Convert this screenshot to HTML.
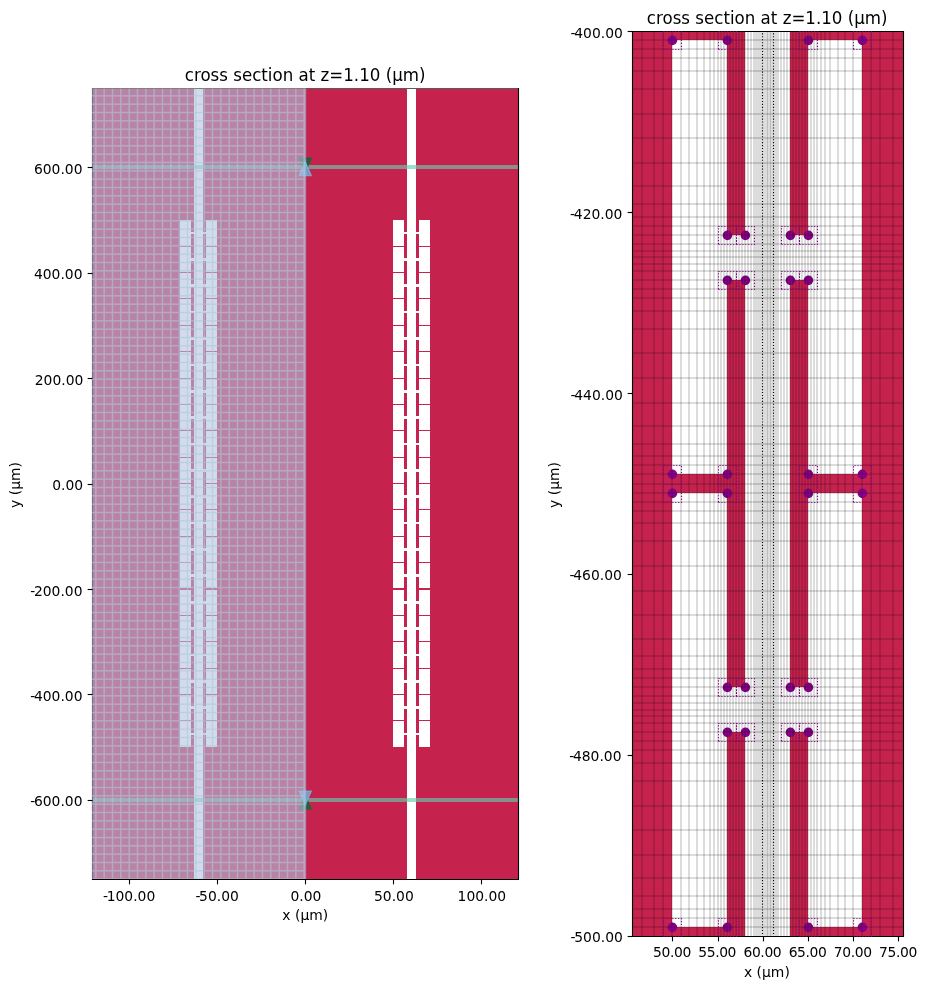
<!DOCTYPE html>
<html><head><meta charset="utf-8"><title>cross section</title>
<style>
html,body{margin:0;padding:0;background:#fff;}
svg{display:block;}
text{font-family:"DejaVu Sans", "Liberation Sans", sans-serif;fill:#000;}
.t12{font-size:16.667px;}
.t10{font-size:13.889px;}
</style></head><body>
<svg width="928" height="989" viewBox="0 0 928 989">
<rect x="0" y="0" width="928" height="989" fill="#fff"/>

<defs>
<clipPath id="cl"><rect x="92.0" y="88.0" width="426.0" height="791.0"/></clipPath>
<pattern id="hatch" x="0" y="0" width="100" height="100" patternUnits="userSpaceOnUse"><rect x="0" y="3.472" width="100" height="1.389" fill="#B0C4DE"/><rect x="0" y="11.806" width="100" height="1.389" fill="#B0C4DE"/><rect x="0" y="20.139" width="100" height="1.389" fill="#B0C4DE"/><rect x="0" y="28.472" width="100" height="1.389" fill="#B0C4DE"/><rect x="0" y="36.806" width="100" height="1.389" fill="#B0C4DE"/><rect x="0" y="45.139" width="100" height="1.389" fill="#B0C4DE"/><rect x="0" y="53.472" width="100" height="1.389" fill="#B0C4DE"/><rect x="0" y="61.806" width="100" height="1.389" fill="#B0C4DE"/><rect x="0" y="70.139" width="100" height="1.389" fill="#B0C4DE"/><rect x="0" y="78.472" width="100" height="1.389" fill="#B0C4DE"/><rect x="0" y="86.805" width="100" height="1.389" fill="#B0C4DE"/><rect x="0" y="95.139" width="100" height="1.389" fill="#B0C4DE"/><rect x="3.472" y="0" width="1.389" height="100" fill="#B0C4DE"/><rect x="11.806" y="0" width="1.389" height="100" fill="#B0C4DE"/><rect x="20.139" y="0" width="1.389" height="100" fill="#B0C4DE"/><rect x="28.472" y="0" width="1.389" height="100" fill="#B0C4DE"/><rect x="36.806" y="0" width="1.389" height="100" fill="#B0C4DE"/><rect x="45.139" y="0" width="1.389" height="100" fill="#B0C4DE"/><rect x="53.472" y="0" width="1.389" height="100" fill="#B0C4DE"/><rect x="61.806" y="0" width="1.389" height="100" fill="#B0C4DE"/><rect x="70.139" y="0" width="1.389" height="100" fill="#B0C4DE"/><rect x="78.472" y="0" width="1.389" height="100" fill="#B0C4DE"/><rect x="86.805" y="0" width="1.389" height="100" fill="#B0C4DE"/><rect x="95.139" y="0" width="1.389" height="100" fill="#B0C4DE"/></pattern>
</defs>
<g clip-path="url(#cl)">
<rect x="92.0" y="88.0" width="426.0" height="791.0" fill="#C6224E"/>
<rect x="407" y="88.0" width="9" height="791.0" fill="#fff"/><rect x="393" y="220" width="11" height="527" fill="#fff"/><rect x="419" y="220" width="11" height="527" fill="#fff"/><rect x="393" y="720" width="11" height="1" fill="#C6224E"/><rect x="419" y="720" width="11" height="1" fill="#C6224E"/><rect x="393" y="694" width="11" height="1" fill="#C6224E"/><rect x="419" y="694" width="11" height="1" fill="#C6224E"/><rect x="393" y="668" width="11" height="1" fill="#C6224E"/><rect x="419" y="668" width="11" height="1" fill="#C6224E"/><rect x="393" y="641" width="11" height="1" fill="#C6224E"/><rect x="419" y="641" width="11" height="1" fill="#C6224E"/><rect x="393" y="615" width="11" height="1" fill="#C6224E"/><rect x="419" y="615" width="11" height="1" fill="#C6224E"/><rect x="393" y="588" width="11" height="2" fill="#C6224E"/><rect x="419" y="588" width="11" height="2" fill="#C6224E"/><rect x="393" y="562" width="11" height="1" fill="#C6224E"/><rect x="419" y="562" width="11" height="1" fill="#C6224E"/><rect x="393" y="536" width="11" height="1" fill="#C6224E"/><rect x="419" y="536" width="11" height="1" fill="#C6224E"/><rect x="393" y="509" width="11" height="1" fill="#C6224E"/><rect x="419" y="509" width="11" height="1" fill="#C6224E"/><rect x="393" y="483" width="11" height="1" fill="#C6224E"/><rect x="419" y="483" width="11" height="1" fill="#C6224E"/><rect x="393" y="457" width="11" height="1" fill="#C6224E"/><rect x="419" y="457" width="11" height="1" fill="#C6224E"/><rect x="393" y="430" width="11" height="1" fill="#C6224E"/><rect x="419" y="430" width="11" height="1" fill="#C6224E"/><rect x="393" y="404" width="11" height="1" fill="#C6224E"/><rect x="419" y="404" width="11" height="1" fill="#C6224E"/><rect x="393" y="378" width="11" height="1" fill="#C6224E"/><rect x="419" y="378" width="11" height="1" fill="#C6224E"/><rect x="393" y="351" width="11" height="1" fill="#C6224E"/><rect x="419" y="351" width="11" height="1" fill="#C6224E"/><rect x="393" y="325" width="11" height="1" fill="#C6224E"/><rect x="419" y="325" width="11" height="1" fill="#C6224E"/><rect x="393" y="298" width="11" height="1" fill="#C6224E"/><rect x="419" y="298" width="11" height="1" fill="#C6224E"/><rect x="393" y="272" width="11" height="1" fill="#C6224E"/><rect x="419" y="272" width="11" height="1" fill="#C6224E"/><rect x="393" y="246" width="11" height="1" fill="#C6224E"/><rect x="419" y="246" width="11" height="1" fill="#C6224E"/><rect x="404" y="733" width="3" height="2" fill="#fff"/><rect x="416" y="733" width="3" height="2" fill="#fff"/><rect x="404" y="706" width="3" height="3" fill="#fff"/><rect x="416" y="706" width="3" height="3" fill="#fff"/><rect x="404" y="680" width="3" height="3" fill="#fff"/><rect x="416" y="680" width="3" height="3" fill="#fff"/><rect x="404" y="654" width="3" height="2" fill="#fff"/><rect x="416" y="654" width="3" height="2" fill="#fff"/><rect x="404" y="627" width="3" height="3" fill="#fff"/><rect x="416" y="627" width="3" height="3" fill="#fff"/><rect x="404" y="601" width="3" height="3" fill="#fff"/><rect x="416" y="601" width="3" height="3" fill="#fff"/><rect x="404" y="574" width="3" height="3" fill="#fff"/><rect x="416" y="574" width="3" height="3" fill="#fff"/><rect x="404" y="548" width="3" height="3" fill="#fff"/><rect x="416" y="548" width="3" height="3" fill="#fff"/><rect x="404" y="522" width="3" height="2" fill="#fff"/><rect x="416" y="522" width="3" height="2" fill="#fff"/><rect x="404" y="495" width="3" height="3" fill="#fff"/><rect x="416" y="495" width="3" height="3" fill="#fff"/><rect x="404" y="469" width="3" height="3" fill="#fff"/><rect x="416" y="469" width="3" height="3" fill="#fff"/><rect x="404" y="443" width="3" height="2" fill="#fff"/><rect x="416" y="443" width="3" height="2" fill="#fff"/><rect x="404" y="416" width="3" height="3" fill="#fff"/><rect x="416" y="416" width="3" height="3" fill="#fff"/><rect x="404" y="390" width="3" height="3" fill="#fff"/><rect x="416" y="390" width="3" height="3" fill="#fff"/><rect x="404" y="364" width="3" height="2" fill="#fff"/><rect x="416" y="364" width="3" height="2" fill="#fff"/><rect x="404" y="337" width="3" height="3" fill="#fff"/><rect x="416" y="337" width="3" height="3" fill="#fff"/><rect x="404" y="311" width="3" height="2" fill="#fff"/><rect x="416" y="311" width="3" height="2" fill="#fff"/><rect x="404" y="284" width="3" height="3" fill="#fff"/><rect x="416" y="284" width="3" height="3" fill="#fff"/><rect x="404" y="258" width="3" height="3" fill="#fff"/><rect x="416" y="258" width="3" height="3" fill="#fff"/><rect x="404" y="232" width="3" height="2" fill="#fff"/><rect x="416" y="232" width="3" height="2" fill="#fff"/>
<rect x="194" y="88.0" width="9" height="791.0" fill="#fff"/><rect x="206" y="220" width="11" height="527" fill="#fff"/><rect x="180" y="220" width="11" height="527" fill="#fff"/><rect x="206" y="720" width="11" height="1" fill="#C6224E"/><rect x="180" y="720" width="11" height="1" fill="#C6224E"/><rect x="206" y="694" width="11" height="1" fill="#C6224E"/><rect x="180" y="694" width="11" height="1" fill="#C6224E"/><rect x="206" y="668" width="11" height="1" fill="#C6224E"/><rect x="180" y="668" width="11" height="1" fill="#C6224E"/><rect x="206" y="641" width="11" height="1" fill="#C6224E"/><rect x="180" y="641" width="11" height="1" fill="#C6224E"/><rect x="206" y="615" width="11" height="1" fill="#C6224E"/><rect x="180" y="615" width="11" height="1" fill="#C6224E"/><rect x="206" y="588" width="11" height="2" fill="#C6224E"/><rect x="180" y="588" width="11" height="2" fill="#C6224E"/><rect x="206" y="562" width="11" height="1" fill="#C6224E"/><rect x="180" y="562" width="11" height="1" fill="#C6224E"/><rect x="206" y="536" width="11" height="1" fill="#C6224E"/><rect x="180" y="536" width="11" height="1" fill="#C6224E"/><rect x="206" y="509" width="11" height="1" fill="#C6224E"/><rect x="180" y="509" width="11" height="1" fill="#C6224E"/><rect x="206" y="483" width="11" height="1" fill="#C6224E"/><rect x="180" y="483" width="11" height="1" fill="#C6224E"/><rect x="206" y="457" width="11" height="1" fill="#C6224E"/><rect x="180" y="457" width="11" height="1" fill="#C6224E"/><rect x="206" y="430" width="11" height="1" fill="#C6224E"/><rect x="180" y="430" width="11" height="1" fill="#C6224E"/><rect x="206" y="404" width="11" height="1" fill="#C6224E"/><rect x="180" y="404" width="11" height="1" fill="#C6224E"/><rect x="206" y="378" width="11" height="1" fill="#C6224E"/><rect x="180" y="378" width="11" height="1" fill="#C6224E"/><rect x="206" y="351" width="11" height="1" fill="#C6224E"/><rect x="180" y="351" width="11" height="1" fill="#C6224E"/><rect x="206" y="325" width="11" height="1" fill="#C6224E"/><rect x="180" y="325" width="11" height="1" fill="#C6224E"/><rect x="206" y="298" width="11" height="1" fill="#C6224E"/><rect x="180" y="298" width="11" height="1" fill="#C6224E"/><rect x="206" y="272" width="11" height="1" fill="#C6224E"/><rect x="180" y="272" width="11" height="1" fill="#C6224E"/><rect x="206" y="246" width="11" height="1" fill="#C6224E"/><rect x="180" y="246" width="11" height="1" fill="#C6224E"/><rect x="203" y="733" width="3" height="2" fill="#fff"/><rect x="191" y="733" width="3" height="2" fill="#fff"/><rect x="203" y="706" width="3" height="3" fill="#fff"/><rect x="191" y="706" width="3" height="3" fill="#fff"/><rect x="203" y="680" width="3" height="3" fill="#fff"/><rect x="191" y="680" width="3" height="3" fill="#fff"/><rect x="203" y="654" width="3" height="2" fill="#fff"/><rect x="191" y="654" width="3" height="2" fill="#fff"/><rect x="203" y="627" width="3" height="3" fill="#fff"/><rect x="191" y="627" width="3" height="3" fill="#fff"/><rect x="203" y="601" width="3" height="3" fill="#fff"/><rect x="191" y="601" width="3" height="3" fill="#fff"/><rect x="203" y="574" width="3" height="3" fill="#fff"/><rect x="191" y="574" width="3" height="3" fill="#fff"/><rect x="203" y="548" width="3" height="3" fill="#fff"/><rect x="191" y="548" width="3" height="3" fill="#fff"/><rect x="203" y="522" width="3" height="2" fill="#fff"/><rect x="191" y="522" width="3" height="2" fill="#fff"/><rect x="203" y="495" width="3" height="3" fill="#fff"/><rect x="191" y="495" width="3" height="3" fill="#fff"/><rect x="203" y="469" width="3" height="3" fill="#fff"/><rect x="191" y="469" width="3" height="3" fill="#fff"/><rect x="203" y="443" width="3" height="2" fill="#fff"/><rect x="191" y="443" width="3" height="2" fill="#fff"/><rect x="203" y="416" width="3" height="3" fill="#fff"/><rect x="191" y="416" width="3" height="3" fill="#fff"/><rect x="203" y="390" width="3" height="3" fill="#fff"/><rect x="191" y="390" width="3" height="3" fill="#fff"/><rect x="203" y="364" width="3" height="2" fill="#fff"/><rect x="191" y="364" width="3" height="2" fill="#fff"/><rect x="203" y="337" width="3" height="3" fill="#fff"/><rect x="191" y="337" width="3" height="3" fill="#fff"/><rect x="203" y="311" width="3" height="2" fill="#fff"/><rect x="191" y="311" width="3" height="2" fill="#fff"/><rect x="203" y="284" width="3" height="3" fill="#fff"/><rect x="191" y="284" width="3" height="3" fill="#fff"/><rect x="203" y="258" width="3" height="3" fill="#fff"/><rect x="191" y="258" width="3" height="3" fill="#fff"/><rect x="203" y="232" width="3" height="2" fill="#fff"/><rect x="191" y="232" width="3" height="2" fill="#fff"/>
<rect x="92.0" y="165" width="426.0" height="4" fill="#32CD32" fill-opacity="0.4"/>
<rect x="92.0" y="165" width="426.0" height="4" fill="#87CEFA" fill-opacity="0.4"/>
<rect x="92.0" y="798" width="426.0" height="4" fill="#32CD32" fill-opacity="0.4"/>
<rect x="92.0" y="798" width="426.0" height="4" fill="#87CEFA" fill-opacity="0.4"/>
<polygon points="299.20,158.20 311.20,158.20 305.20,172.00" fill="rgb(7,106,60)" fill-opacity="0.8" stroke="rgb(7,106,60)" stroke-opacity="0.8" stroke-width="1.39" stroke-linejoin="miter" stroke-miterlimit="10"/>
<polygon points="299.20,175.60 311.20,175.60 305.20,161.80" fill="rgb(113,179,224)" fill-opacity="0.8" stroke="rgb(113,179,224)" stroke-opacity="0.8" stroke-width="1.39" stroke-linejoin="miter" stroke-miterlimit="10"/>
<polygon points="299.20,809.00 311.20,809.00 305.20,795.20" fill="rgb(7,106,60)" fill-opacity="0.8" stroke="rgb(7,106,60)" stroke-opacity="0.8" stroke-width="1.39" stroke-linejoin="miter" stroke-miterlimit="10"/>
<polygon points="299.20,791.10 311.20,791.10 305.20,804.90" fill="rgb(113,179,224)" fill-opacity="0.8" stroke="rgb(113,179,224)" stroke-opacity="0.8" stroke-width="1.39" stroke-linejoin="miter" stroke-miterlimit="10"/>
</g>
<path d="M92.5,87.945V880.055M518.5,87.945V880.055M91.945,88.5H519.055M91.945,879.5H519.055" stroke="#000" stroke-width="1.11" fill="none"/>
<g clip-path="url(#cl)">
<rect x="92.0" y="88.0" width="213.0" height="791.0" fill="#B0C4DE" fill-opacity="0.6"/>
<rect x="92.0" y="88.0" width="213.0" height="791.0" fill="url(#hatch)" fill-opacity="0.6"/>
<rect x="304.8" y="88.0" width="1.39" height="791.0" fill="#B0C4DE" fill-opacity="0.6"/>
</g>
<rect x="92" y="88" width="426" height="1" fill="#808080" fill-opacity="0.7"/>
<path d="M129.5,879.5v4.86" stroke="#000" stroke-width="1.11"/>
<text class="t10" x="129.10" y="901" text-anchor="middle" dx="0 -1.3">-100.00</text>
<path d="M217.5,879.5v4.86" stroke="#000" stroke-width="1.11"/>
<text class="t10" x="217.10" y="901" text-anchor="middle" dx="0 -1.3">-50.00</text>
<path d="M305.5,879.5v4.86" stroke="#000" stroke-width="1.11"/>
<text class="t10" x="305.90" y="901" text-anchor="middle">0.00</text>
<path d="M393.5,879.5v4.86" stroke="#000" stroke-width="1.11"/>
<text class="t10" x="393.90" y="901" text-anchor="middle">50.00</text>
<path d="M481.5,879.5v4.86" stroke="#000" stroke-width="1.11"/>
<text class="t10" x="481.90" y="901" text-anchor="middle">100.00</text>
<path d="M92.5,167.5h-4.86" stroke="#000" stroke-width="1.11"/>
<text class="t10" x="82.5" y="174" text-anchor="end">600.00</text>
<path d="M92.5,273.5h-4.86" stroke="#000" stroke-width="1.11"/>
<text class="t10" x="82.5" y="279" text-anchor="end">400.00</text>
<path d="M92.5,378.5h-4.86" stroke="#000" stroke-width="1.11"/>
<text class="t10" x="83.3" y="385" text-anchor="end">200.00</text>
<path d="M92.5,484.5h-4.86" stroke="#000" stroke-width="1.11"/>
<text class="t10" x="83.1" y="490" text-anchor="end">0.00</text>
<path d="M92.5,589.5h-4.86" stroke="#000" stroke-width="1.11"/>
<text class="t10" x="82.5" y="596" text-anchor="end" dx="0 -1.3">-200.00</text>
<path d="M92.5,694.5h-4.86" stroke="#000" stroke-width="1.11"/>
<text class="t10" x="82.5" y="701" text-anchor="end" dx="0 -1.3">-400.00</text>
<path d="M92.5,800.5h-4.86" stroke="#000" stroke-width="1.11"/>
<text class="t10" x="82.5" y="806" text-anchor="end" dx="0 -1.3">-600.00</text>
<text class="t12" transform="translate(305.1,80.5) scale(1,1.05)" text-anchor="middle">cross section at z=1.10 (μm)</text>
<text class="t10" x="305.25" y="920" text-anchor="middle">x (μm)</text>
<text class="t10" transform="translate(19.9,485) rotate(-90)" text-anchor="middle">y (μm)</text>
<defs><clipPath id="cr"><rect x="632.0" y="31.0" width="272.0" height="906.0"/></clipPath></defs>
<g clip-path="url(#cr)">
<rect x="632.0" y="31.0" width="272.0" height="906.0" fill="#C6224E"/>
<rect x="745" y="31.0" width="45" height="906.0" fill="#fff"/>
<rect x="672" y="40" width="55" height="434" fill="#fff"/>
<rect x="672" y="493" width="55" height="434" fill="#fff"/>
<rect x="808" y="40" width="54" height="434" fill="#fff"/>
<rect x="808" y="493" width="54" height="434" fill="#fff"/>
<rect x="727" y="235" width="18" height="45" fill="#fff"/>
<rect x="727" y="687" width="18" height="45" fill="#fff"/>
<rect x="790" y="235" width="18" height="45" fill="#fff"/>
<rect x="790" y="687" width="18" height="45" fill="#fff"/>
<circle cx="672.40" cy="40.40" r="4.8" fill="#8B008B"/>
<circle cx="727.40" cy="40.40" r="4.8" fill="#8B008B"/>
<circle cx="808.40" cy="40.40" r="4.8" fill="#8B008B"/>
<circle cx="862.40" cy="40.40" r="4.8" fill="#8B008B"/>
<circle cx="672.40" cy="474.40" r="4.8" fill="#8B008B"/>
<circle cx="727.40" cy="474.40" r="4.8" fill="#8B008B"/>
<circle cx="808.40" cy="474.40" r="4.8" fill="#8B008B"/>
<circle cx="862.40" cy="474.40" r="4.8" fill="#8B008B"/>
<circle cx="672.40" cy="493.40" r="4.8" fill="#8B008B"/>
<circle cx="727.40" cy="493.40" r="4.8" fill="#8B008B"/>
<circle cx="808.40" cy="493.40" r="4.8" fill="#8B008B"/>
<circle cx="862.40" cy="493.40" r="4.8" fill="#8B008B"/>
<circle cx="672.40" cy="927.40" r="4.8" fill="#8B008B"/>
<circle cx="727.40" cy="927.40" r="4.8" fill="#8B008B"/>
<circle cx="808.40" cy="927.40" r="4.8" fill="#8B008B"/>
<circle cx="862.40" cy="927.40" r="4.8" fill="#8B008B"/>
<circle cx="727.40" cy="235.40" r="4.8" fill="#8B008B"/>
<circle cx="745.40" cy="235.40" r="4.8" fill="#8B008B"/>
<circle cx="790.40" cy="235.40" r="4.8" fill="#8B008B"/>
<circle cx="808.40" cy="235.40" r="4.8" fill="#8B008B"/>
<circle cx="727.40" cy="280.40" r="4.8" fill="#8B008B"/>
<circle cx="745.40" cy="280.40" r="4.8" fill="#8B008B"/>
<circle cx="790.40" cy="280.40" r="4.8" fill="#8B008B"/>
<circle cx="808.40" cy="280.40" r="4.8" fill="#8B008B"/>
<circle cx="727.40" cy="687.40" r="4.8" fill="#8B008B"/>
<circle cx="745.40" cy="687.40" r="4.8" fill="#8B008B"/>
<circle cx="790.40" cy="687.40" r="4.8" fill="#8B008B"/>
<circle cx="808.40" cy="687.40" r="4.8" fill="#8B008B"/>
<circle cx="727.40" cy="732.40" r="4.8" fill="#8B008B"/>
<circle cx="745.40" cy="732.40" r="4.8" fill="#8B008B"/>
<circle cx="790.40" cy="732.40" r="4.8" fill="#8B008B"/>
<circle cx="808.40" cy="732.40" r="4.8" fill="#8B008B"/>
<path d="M642,31.0V937.0M654,31.0V937.0M663,31.0V937.0M672,31.0V937.0M681,31.0V937.0M689,31.0V937.0M697,31.0V937.0M704,31.0V937.0M710,31.0V937.0M714,31.0V937.0M718,31.0V937.0M721,31.0V937.0M724,31.0V937.0M727,31.0V937.0M730,31.0V937.0M733,31.0V937.0M736,31.0V937.0M739,31.0V937.0M742,31.0V937.0M745,31.0V937.0M748,31.0V937.0M751,31.0V937.0M781,31.0V937.0M784,31.0V937.0M787,31.0V937.0M790,31.0V937.0M793,31.0V937.0M796,31.0V937.0M799,31.0V937.0M802,31.0V937.0M805,31.0V937.0M808,31.0V937.0M811,31.0V937.0M814,31.0V937.0M817,31.0V937.0M821,31.0V937.0M825,31.0V937.0M830,31.0V937.0M838,31.0V937.0M845,31.0V937.0M853,31.0V937.0M862,31.0V937.0M871,31.0V937.0M880,31.0V937.0M893,31.0V937.0" stroke="#000" stroke-opacity="0.139" stroke-width="2" fill="none"/>
<rect x="753" y="31.0" width="26" height="906.0" fill="#000" fill-opacity="0.139"/>
<rect x="767" y="31.0" width="1" height="906.0" fill="#000" fill-opacity="0.139"/>
<rect x="770" y="31.0" width="1" height="906.0" fill="#000" fill-opacity="0.139"/>
<path d="M632.0,40H904.0M632.0,49H904.0M632.0,58H904.0M632.0,71H904.0M632.0,89H904.0M632.0,114H904.0M632.0,138H904.0M632.0,163H904.0M632.0,186H904.0M632.0,204H904.0M632.0,217H904.0M632.0,226H904.0M632.0,235H904.0M632.0,244H904.0M632.0,251H904.0M632.0,257H904.0M632.0,264H904.0M632.0,271H904.0M632.0,280H904.0M632.0,289H904.0M632.0,298H904.0M632.0,311H904.0M632.0,329H904.0M632.0,353H904.0M632.0,378H904.0M632.0,403H904.0M632.0,426H904.0M632.0,444H904.0M632.0,456H904.0M632.0,465H904.0M632.0,474H904.0M632.0,484H904.0M632.0,493H904.0M632.0,502H904.0M632.0,511H904.0M632.0,523H904.0M632.0,541H904.0M632.0,566H904.0M632.0,591H904.0M632.0,615H904.0M632.0,639H904.0M632.0,656H904.0M632.0,669H904.0M632.0,678H904.0M632.0,687H904.0M632.0,696H904.0M632.0,703H904.0M632.0,710H904.0M632.0,716H904.0M632.0,723H904.0M632.0,732H904.0M632.0,741H904.0M632.0,750H904.0M632.0,763H904.0M632.0,781H904.0M632.0,806H904.0M632.0,830H904.0M632.0,855H904.0M632.0,878H904.0M632.0,896H904.0M632.0,909H904.0M632.0,918H904.0M632.0,927H904.0" stroke="#000" stroke-opacity="0.139" stroke-width="2" fill="none"/>
</g>
<path d="M632.5,30.945V937.055M903.5,30.945V937.055M631.945,31.5H904.055M631.945,936.5H904.055" stroke="#000" stroke-width="1.11" fill="none"/>
<g clip-path="url(#cr)">
<path d="M762.5,937.0V31.0" stroke="#000" stroke-width="1.11" stroke-dasharray="1.11 1.83" fill="none"/>
<path d="M773.5,937.0V31.0" stroke="#000" stroke-width="1.11" stroke-dasharray="1.11 1.83" fill="none"/>
<path d="M663.5,49.5H681.5V31.5H663.5ZM718.5,49.5H736.5V31.5H718.5ZM799.5,49.5H817.5V31.5H799.5ZM853.5,49.5H871.5V31.5H853.5ZM663.5,484.5H681.5V465.5H663.5ZM718.5,484.5H736.5V465.5H718.5ZM799.5,484.5H817.5V465.5H799.5ZM853.5,484.5H871.5V465.5H853.5ZM663.5,502.5H681.5V484.5H663.5ZM718.5,502.5H736.5V484.5H718.5ZM799.5,502.5H817.5V484.5H799.5ZM853.5,502.5H871.5V484.5H853.5ZM663.5,936.5H681.5V918.5H663.5ZM718.5,936.5H736.5V918.5H718.5ZM799.5,936.5H817.5V918.5H799.5ZM853.5,936.5H871.5V918.5H853.5ZM718.5,244.5H736.5V226.5H718.5ZM736.5,244.5H754.5V226.5H736.5ZM781.5,244.5H799.5V226.5H781.5ZM799.5,244.5H817.5V226.5H799.5ZM718.5,289.5H736.5V271.5H718.5ZM736.5,289.5H754.5V271.5H736.5ZM781.5,289.5H799.5V271.5H781.5ZM799.5,289.5H817.5V271.5H799.5ZM718.5,696.5H736.5V678.5H718.5ZM736.5,696.5H754.5V678.5H736.5ZM781.5,696.5H799.5V678.5H781.5ZM799.5,696.5H817.5V678.5H799.5ZM718.5,741.5H736.5V723.5H718.5ZM736.5,741.5H754.5V723.5H736.5ZM781.5,741.5H799.5V723.5H781.5ZM799.5,741.5H817.5V723.5H799.5Z" stroke="#8B008B" stroke-width="1.11" stroke-dasharray="1.11 1.83" fill="none"/>
</g>
<path d="M672.5,936.5v4.86" stroke="#000" stroke-width="1.11"/>
<text class="t10" x="672.15" y="957" text-anchor="middle" textLength="38.2" lengthAdjust="spacing">50.00</text>
<path d="M718.5,936.5v4.86" stroke="#000" stroke-width="1.11"/>
<text class="t10" x="717.35" y="957" text-anchor="middle" textLength="38.2" lengthAdjust="spacing">55.00</text>
<path d="M763.5,936.5v4.86" stroke="#000" stroke-width="1.11"/>
<text class="t10" x="762.55" y="957" text-anchor="middle" textLength="38.2" lengthAdjust="spacing">60.00</text>
<path d="M808.5,936.5v4.86" stroke="#000" stroke-width="1.11"/>
<text class="t10" x="807.75" y="957" text-anchor="middle" textLength="38.2" lengthAdjust="spacing">65.00</text>
<path d="M853.5,936.5v4.86" stroke="#000" stroke-width="1.11"/>
<text class="t10" x="852.95" y="957" text-anchor="middle" textLength="38.2" lengthAdjust="spacing">70.00</text>
<path d="M898.5,936.5v4.86" stroke="#000" stroke-width="1.11"/>
<text class="t10" x="898.15" y="957" text-anchor="middle" textLength="38.2" lengthAdjust="spacing">75.00</text>
<path d="M632.5,31.5h-4.86" stroke="#000" stroke-width="1.11"/>
<text class="t10" x="622.8" y="38" text-anchor="end" dx="0 -1.3">-400.00</text>
<path d="M632.5,212.5h-4.86" stroke="#000" stroke-width="1.11"/>
<text class="t10" x="622.4" y="219" text-anchor="end" dx="0 -1.3">-420.00</text>
<path d="M632.5,393.5h-4.86" stroke="#000" stroke-width="1.11"/>
<text class="t10" x="622.8" y="400" text-anchor="end" dx="0 -1.3">-440.00</text>
<path d="M632.5,574.5h-4.86" stroke="#000" stroke-width="1.11"/>
<text class="t10" x="621.85" y="580" text-anchor="end" dx="0 -1.3">-460.00</text>
<path d="M632.5,755.5h-4.86" stroke="#000" stroke-width="1.11"/>
<text class="t10" x="621.5" y="761" text-anchor="end" dx="0 -1.3">-480.00</text>
<path d="M632.5,936.5h-4.86" stroke="#000" stroke-width="1.11"/>
<text class="t10" x="622.8" y="942" text-anchor="end" dx="0 -1.3">-500.00</text>
<text class="t12" transform="translate(767.2,23.7) scale(1,1.05)" text-anchor="middle">cross section at z=1.10 (μm)</text>
<text class="t10" x="766.9" y="977" text-anchor="middle">x (μm)</text>
<text class="t10" transform="translate(558.9,485) rotate(-90)" text-anchor="middle">y (μm)</text>
</svg></body></html>
